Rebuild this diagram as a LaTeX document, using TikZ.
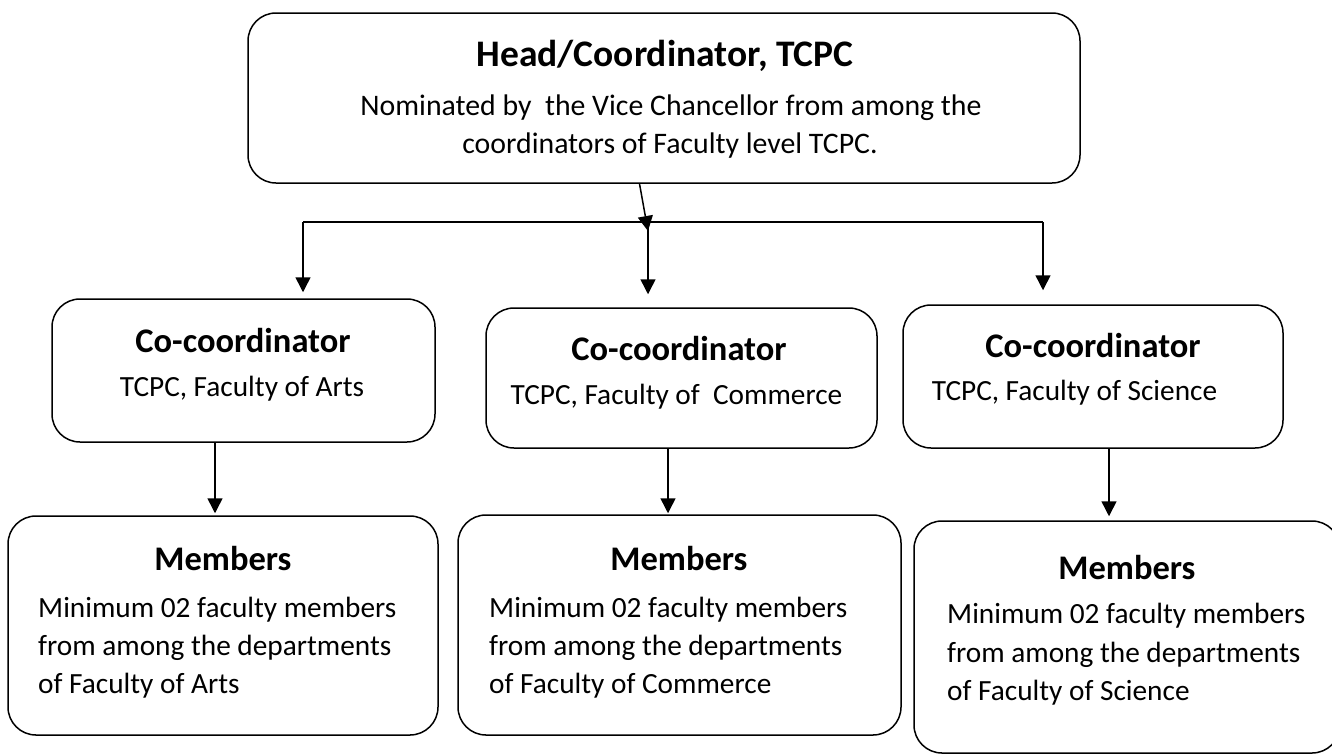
\documentclass[tikz,border=0pt]{standalone}
\usepackage{fontspec}
\setmainfont{Carlito}
\usetikzlibrary{arrows.meta}
\begin{document}
\begin{tikzpicture}[x=1pt,y=-1pt,
 box/.style={draw,line width=1.5pt,rounded corners=28pt,inner sep=0pt},
 arr/.style={line width=1.5pt,-{Triangle[width=15pt,length=15pt]}},
 ttl/.style={font=\fontsize{37.5}{45}\selectfont\bfseries,inner sep=0pt},
 hd/.style={font=\fontsize{34.5}{41}\selectfont\bfseries,inner sep=0pt},
 bd/.style={font=\fontsize{29.3}{38}\selectfont,inner sep=0pt},
 bdt/.style={font=\fontsize{29.8}{38}\selectfont,inner sep=0pt},
]
\useasboundingbox (0,0) rectangle (1332,755);
% boxes
\node[box,minimum width=832pt,minimum height=170pt] (top) at (664,98) {};
\node[box,minimum width=383pt,minimum height=143pt] (lcc) at (243.5,370.5) {};
\node[box,minimum width=391pt,minimum height=140pt] (mcc) at (681.5,378) {};
\node[box,minimum width=380pt,minimum height=143pt] (rcc) at (1093,376.5) {};
\node[box,minimum width=430pt,minimum height=219pt] (lmem) at (223,625.5) {};
\node[box,minimum width=443pt,minimum height=220pt] (mmem) at (679.5,625) {};
\node[box,minimum width=426pt,minimum height=232pt] (rmem) at (1127,637) {};
% texts
\node[ttl,anchor=base] (t1) at (665,66) {Head/Coordinator, TCPC};
\node[bdt,anchor=base] (t2) at (671,115) {Nominated by\ \ the Vice Chancellor from among the};
\node[bdt,anchor=base] (t3) at (670,153) {coordinators of Faculty level TCPC.};
\node[hd,anchor=base] (l1) at (243,352) {Co-coordinator};
\node[bd,anchor=base] (l2) at (242,396) {TCPC, Faculty of Arts};
\node[hd,anchor=base] (m1) at (679,360) {Co-coordinator};
\node[bd,anchor=base] (m2) at (676.5,404) {TCPC, Faculty of\ \ Commerce};
\node[hd,anchor=base] (r1) at (1093,357) {Co-coordinator};
\node[bd,anchor=base] (r2) at (1074.5,400) {TCPC, Faculty of Science};
\node[hd,anchor=base] (lm0) at (223,570) {Members};
\node[bd,anchor=base west] (lm1) at (38,617) {Minimum 02 faculty members};
\node[bd,anchor=base west] (lm2) at (38,655) {from among the departments};
\node[bd,anchor=base west] (lm3) at (38,693) {of Faculty of Arts};
\node[hd,anchor=base] (mm0) at (679,570) {Members};
\node[bd,anchor=base west] (mm1) at (489,617) {Minimum 02 faculty members};
\node[bd,anchor=base west] (mm2) at (489,655) {from among the departments};
\node[bd,anchor=base west] (mm3) at (489,693) {of Faculty of Commerce};
\node[hd,anchor=base] (rm0) at (1127,579) {Members};
\node[bd,anchor=base west] (rm1) at (947,623) {Minimum 02 faculty members};
\node[bd,anchor=base west] (rm2) at (947,662) {from among the departments};
\node[bd,anchor=base west] (rm3) at (947,700) {of Faculty of Science};
% connectors
\coordinate (h) at (648,222);
\coordinate (hl) at (303,222);
\coordinate (hr) at (1043,222);
\draw[arr] ([xshift=-24.5pt]top.south) -- ([yshift=-9pt]h);
\draw[line width=2pt] (hl) -- (hr);
\draw[arr,shorten >=6pt] (hl) -- (hl |- lcc.north);
\draw[arr,shorten >=13pt] (h) -- (h |- mcc.north);
\draw[arr,shorten >=14pt] (hr) -- (hr |- rcc.north);
\draw[arr,shorten >=2pt] ([xshift=-28.5pt]lcc.south) -- ([xshift=-28.5pt]lcc.south |- lmem.north);
\draw[arr,shorten >=1pt] ([xshift=-13.5pt]mcc.south) -- ([xshift=-13.5pt]mcc.south |- mmem.north);
\draw[arr,shorten >=4pt] ([xshift=16pt]rcc.south) -- ([xshift=16pt]rcc.south |- rmem.north);
\end{tikzpicture}
\end{document}
